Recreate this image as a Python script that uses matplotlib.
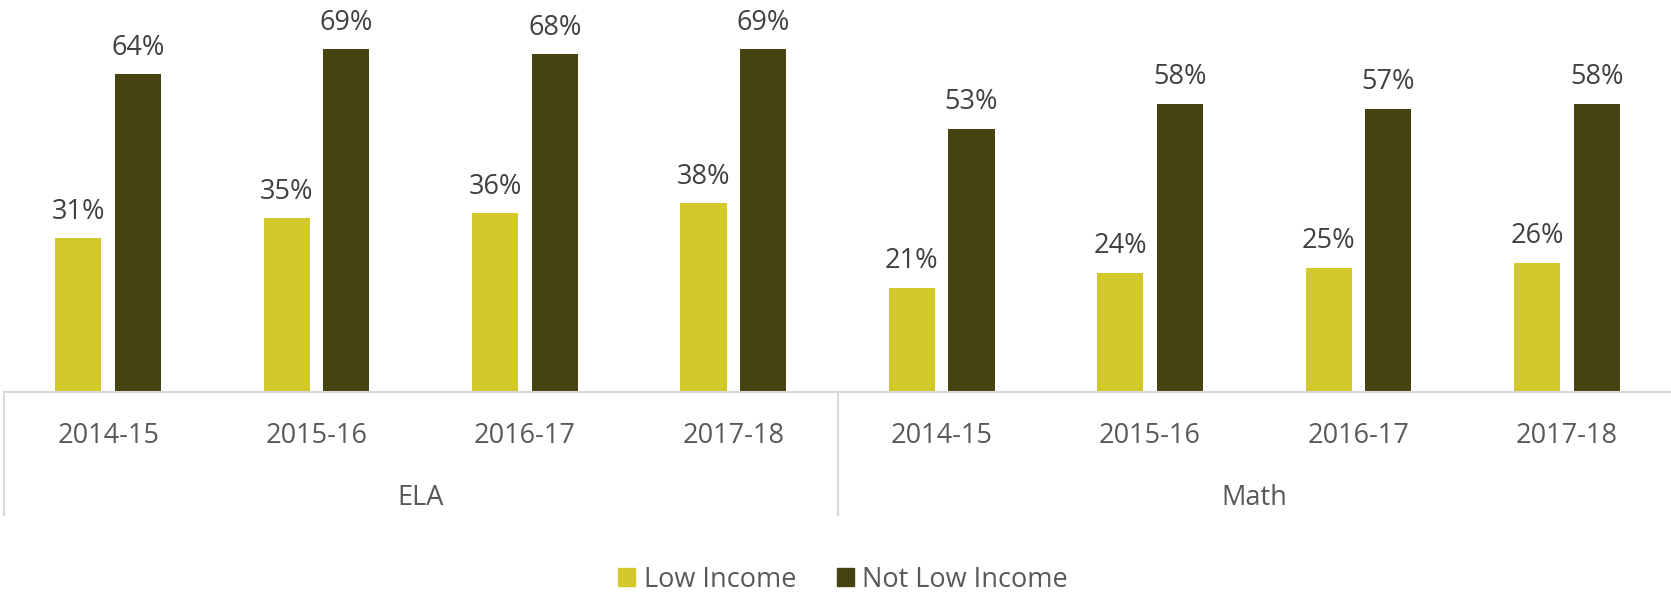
import matplotlib.pyplot as plt
from matplotlib.patches import Patch
import numpy as np

plt.rcParams['font.family'] = ['Open Sans', 'DejaVu Sans']

years = ["2014-15", "2015-16", "2016-17", "2017-18"]
subjects = ["ELA", "Math"]
low_income = [31, 35, 36, 38, 21, 24, 25, 26]
not_low_income = [64, 69, 68, 69, 53, 58, 57, 58]

COLOR_LOW = "#D3C92B"
COLOR_NOT = "#474310"
COLOR_TEXT = "#595959"
COLOR_LINE = "#D9D9D9"

fig = plt.figure(figsize=(16.71, 5.94), dpi=100)
ax = fig.add_axes([4 / 1671, 202 / 594, 1667 / 1671, 392 / 594])

x = np.arange(len(low_income))
width = 0.221
off = 0.143

b1 = ax.bar(x - off, low_income, width, color=COLOR_LOW)
b2 = ax.bar(x + off, not_low_income, width, color=COLOR_NOT)

for bars, vals in [(b1, low_income), (b2, not_low_income)]:
    for rect, v in zip(bars, vals):
        ax.annotate(f"{v}%", (rect.get_x() + rect.get_width() / 2, v),
                    xytext=(0, 14), textcoords="offset points",
                    ha="center", va="baseline", fontsize=19.5, color="#404040")

ax.set_xlim(-0.5, len(x) - 0.5)
ax.set_ylim(0, 78.9)
ax.set_xticks([])
ax.set_yticks([])
for s in ["top", "right", "left"]:
    ax.spines[s].set_visible(False)
ax.spines["bottom"].set_color(COLOR_LINE)
ax.spines["bottom"].set_linewidth(1.5)

trans = ax.get_xaxis_transform()
for i, xi in enumerate(x):
    ax.text(xi, -0.130, years[i % 4], transform=trans, ha="center", va="baseline",
            fontsize=19.5, color=COLOR_TEXT)
for j, subj in enumerate(subjects):
    ax.text(1.5 + 4 * j, -0.288, subj, transform=trans, ha="center", va="baseline",
            fontsize=19.5, color=COLOR_TEXT)
for xv in [-0.5, 3.5]:
    ax.plot([xv, xv], [0, -0.314], transform=trans, color=COLOR_LINE,
            linewidth=1.5, clip_on=False)

handles = [Patch(color=COLOR_LOW, label="Low Income"),
           Patch(color=COLOR_NOT, label="Not Low Income")]
leg = fig.legend(handles=handles, loc="center", bbox_to_anchor=(0.5045, 0.024),
                 ncol=2, frameon=False, fontsize=19.5, handlelength=0.65,
                 handleheight=0.65, handletextpad=0.3, columnspacing=1.5)
for t in leg.get_texts():
    t.set_color(COLOR_TEXT)

fig.savefig("out.png", dpi=100)
